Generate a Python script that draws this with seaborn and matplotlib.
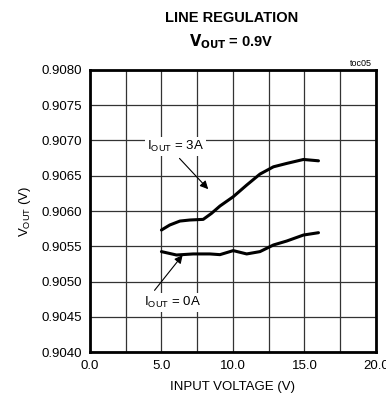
"""
Line regulation plot (VOUT vs input voltage)
"""
import numpy as np
import pandas as pd
import matplotlib
matplotlib.use('Agg')
import matplotlib.pyplot as plt
import seaborn as sns

# data
vin_3a = [5.0, 5.58, 6.29, 6.99, 7.92, 8.5, 9.09, 10.02, 10.96, 11.89,
          12.83, 13.76, 14.93, 15.98]
vout_3a = [0.905731, 0.905802, 0.905858, 0.905873, 0.905882, 0.905967,
           0.906071, 0.906203, 0.906368, 0.906524, 0.906627, 0.906675,
           0.906731, 0.906712]
vin_0a = [5.0, 6.05, 7.22, 8.39, 9.09, 10.02, 10.96, 11.89, 12.83, 13.76,
          14.93, 15.98]
vout_0a = [0.905425, 0.905377, 0.905392, 0.905392, 0.905382, 0.905439,
           0.905392, 0.905425, 0.905519, 0.905575, 0.905660, 0.905693]

x_ticks = [0.0, 5.0, 10.0, 15.0, 20.0]
y_ticks = [0.9040, 0.9045, 0.9050, 0.9055, 0.9060, 0.9065, 0.9070, 0.9075, 0.9080]

df = pd.concat([
    pd.DataFrame({'vin': vin_3a, 'vout': vout_3a, 'load': '3A'}),
    pd.DataFrame({'vin': vin_0a, 'vout': vout_0a, 'load': '0A'}),
])

sns.set_style('white')
plt.rcParams['font.family'] = ['Liberation Sans', 'DejaVu Sans']
plt.rcParams['text.color'] = 'black'
plt.rcParams['axes.labelcolor'] = 'black'
plt.rcParams['xtick.color'] = 'black'
plt.rcParams['ytick.color'] = 'black'

fig = plt.figure(figsize=(3.86, 4.09), dpi=100)
ax = fig.add_axes([0.233, 0.139, 0.741, 0.690])

sns.lineplot(data=df, x='vin', y='vout', units='load', estimator=None,
             color='black', linewidth=2.2, sort=False, legend=False, ax=ax)
for line in ax.lines:
    line.set_solid_joinstyle('round')
    line.set_solid_capstyle('round')

ax.set_xlim(0, 20)
ax.set_ylim(0.9040, 0.9080)
ax.set_xticks(np.arange(0, 20.01, 2.5))
ax.set_yticks(y_ticks)
ax.set_xticklabels(['0.0', '', '5.0', '', '10.0', '', '15.0', '', '20.0'])
ax.set_yticklabels([f'{v:.4f}' for v in y_ticks])
ax.grid(True, color='#333333', linewidth=0.9)
ax.tick_params(length=0, labelsize=9.5, pad=6)

for spine in ax.spines.values():
    spine.set_color('black')
    spine.set_linewidth(2)

ax.set_xlabel('INPUT VOLTAGE (V)', fontsize=9.5, labelpad=6)
ax.set_ylabel('$\\mathregular{V_{OUT}}$ (V)', fontsize=9.5, labelpad=6)

fig.text(0.6, 0.955, 'LINE REGULATION', ha='center', va='center',
         fontsize=10.5, fontweight='bold')
fig.text(0.6, 0.898, '$\\mathregular{\\mathbf{V_{OUT}}}$ = 0.9V', ha='center', va='center',
         fontsize=10.5, fontweight='bold')
ax.text(0.985, 1.008, 'toc05', transform=ax.transAxes, ha='right', va='bottom',
        fontsize=6.5)

box = dict(boxstyle='square,pad=0.15', fc='white', ec='none')
ax.annotate('$\\mathregular{I_{OUT}}$ = 3A', xy=(8.27, 0.90631), xytext=(6.0, 0.90691),
            ha='center', va='center', fontsize=9.5, bbox=box,
            arrowprops=dict(arrowstyle='-|>', color='black', lw=0.8, mutation_scale=12,
                            shrinkA=2, shrinkB=0, relpos=(0.5, 0.0)))
ax.annotate('$\\mathregular{I_{OUT}}$ = 0A', xy=(6.48, 0.905376), xytext=(5.8, 0.90471),
            ha='center', va='center', fontsize=9.5, bbox=box,
            arrowprops=dict(arrowstyle='-|>', color='black', lw=0.8, mutation_scale=12,
                            shrinkA=2, shrinkB=0, relpos=(0.12, 1.0)))

plt.savefig('out.png', dpi=100)
plt.close()
